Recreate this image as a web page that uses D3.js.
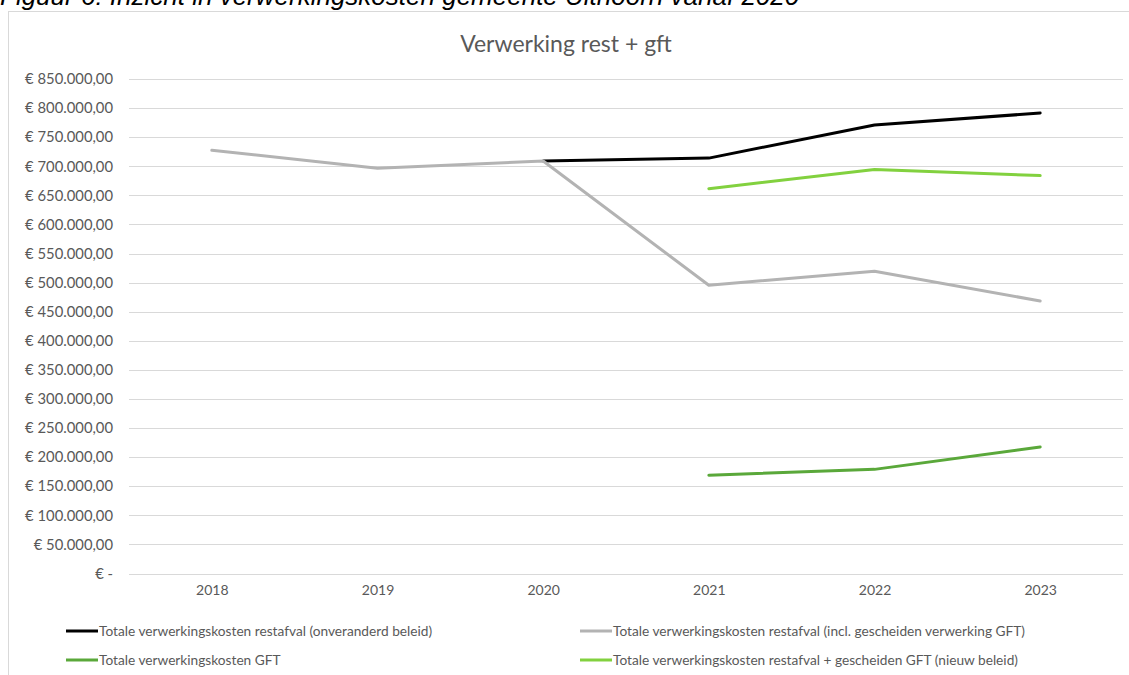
<!DOCTYPE html>
<html><head><meta charset="utf-8">
<script src="https://cdn.jsdelivr.net/npm/d3@7"></script>
<style>
html,body{margin:0;padding:0;background:#fff;overflow:hidden}
svg{display:block}
</style></head>
<body>
<svg id="c" width="1129" height="675"></svg>
<script>
const years = ["2018","2019","2020","2021","2022","2023"];
const yTicks = [0,50000,100000,150000,200000,250000,300000,350000,400000,450000,500000,550000,600000,650000,700000,750000,800000,850000];
const seriesNames = [
  "Totale verwerkingskosten restafval (onveranderd beleid)",
  "Totale verwerkingskosten restafval (incl. gescheiden verwerking GFT)",
  "Totale verwerkingskosten GFT",
  "Totale verwerkingskosten restafval + gescheiden GFT (nieuw beleid)"
];
const onveranderd = [null,null,709000,714000,771000,791500];
const inclGft     = [727500,696500,709000,495500,519500,468500];
const gft         = [null,null,null,169000,179000,217500];
const nieuwBeleid = [null,null,null,661500,694500,684000];
const seriesColors = ["#000000","#b3b3b3","#5aa83a","#82d13f"];
const caption = "Figuur 6: Inzicht in verwerkingskosten gemeente Uithoorn vanaf 2020";
const title = "Verwerking rest + gft";

(function(){
const svg = d3.select("#c");
const font = "Lato, 'Open Sans', sans-serif";

// caption (cut off at top, as in the source)
svg.append("text").attr("x",0).attr("y",5)
  .attr("font-family","Arial, 'Liberation Sans', sans-serif")
  .attr("font-style","italic").attr("font-size",26).attr("fill","#000")
  .text(caption);

// chart border
svg.append("rect").attr("x",8.5).attr("y",11.5).attr("width",1300).attr("height",800)
  .attr("fill","#fff").attr("stroke","#d9d9d9").attr("stroke-width",1);

const pl=129, pr=1123, pt=79, pb=573.5;
const x = d3.scalePoint().domain(years).range([pl,pr]).padding(0.5);
const y = d3.scaleLinear().domain([0,850000]).range([pb,pt]);

// title
svg.append("text").attr("x",566).attr("y",52).attr("text-anchor","middle")
  .attr("font-family",font).attr("font-size",23).attr("fill","#595959").text(title);

// gridlines
svg.append("g").selectAll("line").data(yTicks).join("line")
  .attr("x1",pl).attr("x2",pr)
  .attr("y1",d=>Math.round(y(d))+0.5).attr("y2",d=>Math.round(y(d))+0.5)
  .attr("stroke","#d9d9d9").attr("stroke-width",1);

// y axis labels
function fmt(v){
  if(v===0) return "€ -";
  return "€ " + d3.format(",.2f")(v).replace(/,/g,"#").replace(/\./g,",").replace(/#/g,".");
}
const yAxis = d3.axisLeft(y).tickValues(yTicks).tickSize(0).tickPadding(16).tickFormat(fmt);
const gy = svg.append("g").attr("transform",`translate(${pl},0)`).call(yAxis);
gy.select(".domain").remove();
gy.selectAll("text").attr("font-family",font).attr("font-size",14.8).attr("fill","#595959");

// x axis labels
const xAxis = d3.axisBottom(x).tickSize(0).tickPadding(12);
const gx = svg.append("g").attr("transform",`translate(0,${pb})`).call(xAxis);
gx.select(".domain").remove();
gx.selectAll("text").attr("font-family",font).attr("font-size",14).attr("fill","#595959");

// lines
const all = [onveranderd, inclGft, gft, nieuwBeleid];
const line = d3.line()
  .defined(d=>d.v!==null)
  .x(d=>x(d.year)).y(d=>y(d.v));
[0,1,2,3].forEach(i=>{
  const pts = years.map((yr,j)=>({year:yr, v:all[i][j]}));
  svg.append("path").datum(pts).attr("d",line)
    .attr("fill","none").attr("stroke",seriesColors[i]).attr("stroke-width",3)
    .attr("stroke-linecap","round").attr("stroke-linejoin","round");
});

// legend
const legPos = [[64,631],[578,631],[64,660],[578,660]];
seriesNames.forEach((n,i)=>{
  const [lx,ly]=legPos[i];
  svg.append("line").attr("x1",lx+2).attr("x2",lx+34).attr("y1",ly).attr("y2",ly)
    .attr("stroke",seriesColors[i]).attr("stroke-width",3);
  svg.append("text").attr("x",lx+35).attr("y",ly+5)
    .attr("font-family",font).attr("font-size",13.7).attr("fill","#595959").text(n);
});
})();
</script>
</body></html>
